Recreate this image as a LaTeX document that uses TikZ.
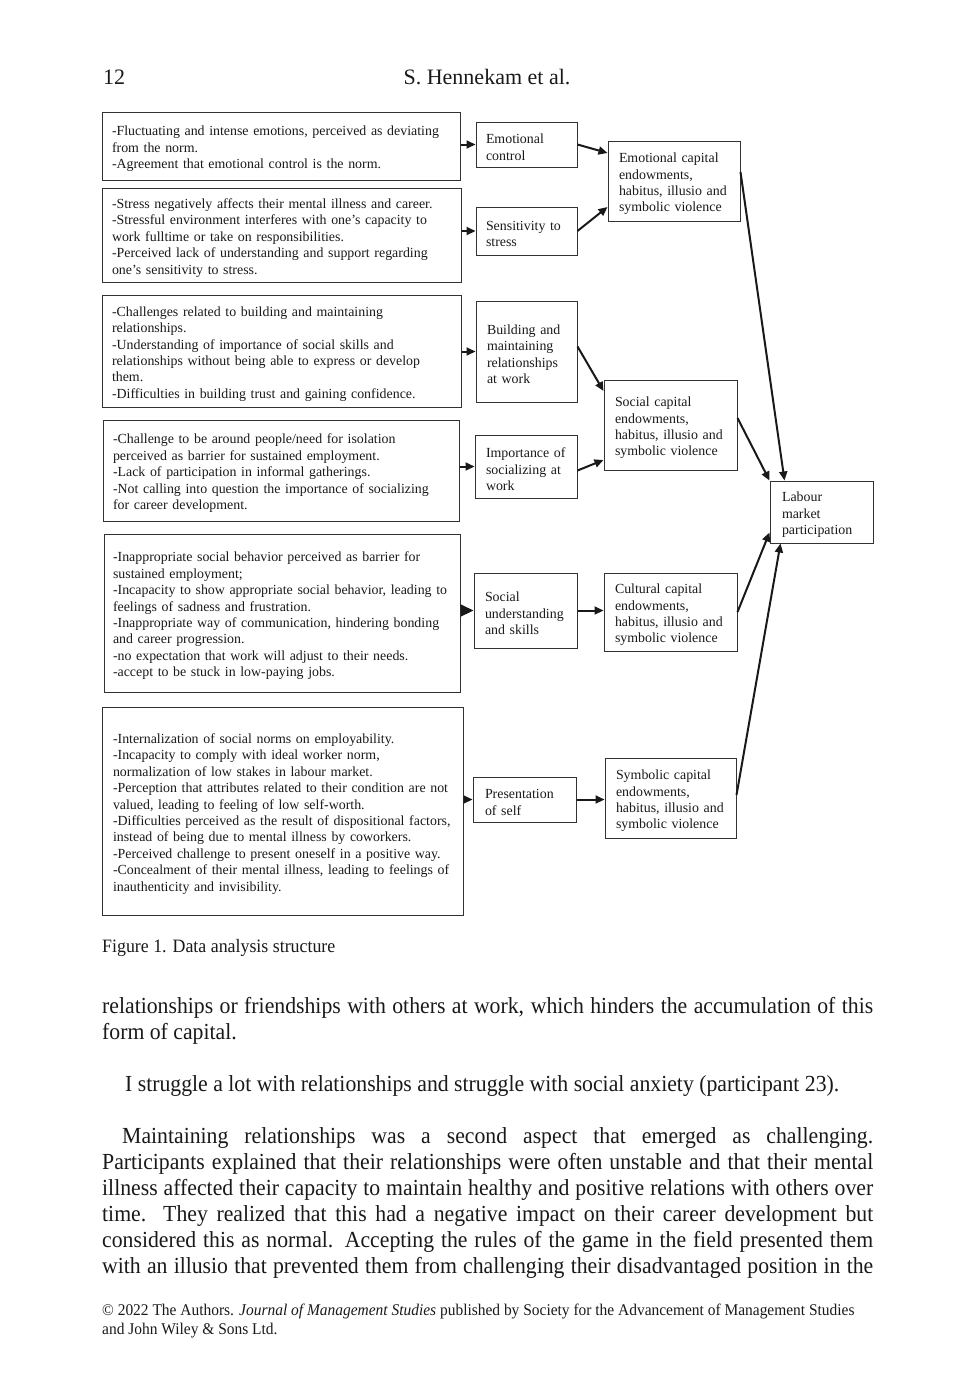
\documentclass[tikz,border=0pt]{standalone}
\usepackage{fontspec}
\setmainfont{Liberation Serif}
\newfontfamily\narrowfont[FakeStretch=0.945]{Liberation Serif}
\usetikzlibrary{arrows.meta}

\begin{document}
\begin{tikzpicture}[x=1pt,y=-1pt,
  card/.style={draw=black!80, line width=1pt, rectangle, inner xsep=10pt, inner ysep=0pt, align=left, text=black!90, font=\fontsize{13.9}{16.4}\selectfont, execute at begin node={\rule{0pt}{15.5pt}}},
  arr/.style={line width=2pt, black!90, -{Triangle[length=9pt,width=8pt]}},
  bigarr/.style={line width=2pt, black!90, -{Triangle[length=13pt,width=12pt]}},
  txt/.style={anchor=base west, inner sep=0pt, text=black!90, font=\narrowfont\fontsize{23}{26}\selectfont}]
\useasboundingbox (0,0) rectangle (970,1395);
\begin{scope}
\node[card, text width=338pt, minimum height=68pt] (1) at (281,146) {-Fluctuating and intense emotions, perceived as deviating\\from the norm.\\-Agreement that emotional control is the norm.};
\node[card, text width=339pt, minimum height=94pt] (2) at (281.5,235) {-Stress negatively affects their mental illness and career.\\-Stressful environment interferes with one's capacity to\\work fulltime or take on responsibilities.\\-Perceived lack of understanding and support regarding\\one's sensitivity to stress.};
\node[card, text width=339pt, minimum height=112pt] (3) at (281.5,351) {-Challenges related to building and maintaining\\relationships.\\-Understanding of importance of social skills and\\relationships without being able to express or develop\\them.\\-Difficulties in building trust and gaining confidence.};
\node[card, text width=336pt, minimum height=101pt] (4) at (281,470.5) {-Challenge to be around people/need for isolation\\perceived as barrier for sustained employment.\\-Lack of participation in informal gatherings.\\-Not calling into question the importance of socializing\\for career development.};
\node[card, inner xsep=9pt, text width=338pt, minimum height=158pt] (5) at (282,613) {-Inappropriate social behavior perceived as barrier for\\sustained employment;\\-Incapacity to show appropriate social behavior, leading to\\feelings of sadness and frustration.\\-Inappropriate way of communication, hindering bonding\\and career progression.\\-no expectation that work will adjust to their needs.\\-accept to be stuck in low-paying jobs.};
\node[card, inner xsep=11pt, text width=339pt, minimum height=208pt] (6) at (282.5,811) {-Internalization of social norms on employability.\\-Incapacity to comply with ideal worker norm,\\normalization of low stakes in labour market.\\-Perception that attributes related to their condition are not\\valued, leading to feeling of low self-worth.\\-Difficulties perceived as the result of dispositional factors,\\instead of being due to mental illness by coworkers.\\-Perceived challenge to present oneself in a positive way.\\-Concealment of their mental illness, leading to feelings of\\inauthenticity and invisibility.};

\node[card, text width=81pt, minimum height=45pt] (7) at (526.5,144.5) {Emotional\\control};
\node[card, text width=81pt, minimum height=48pt] (8) at (526.5,231) {Sensitivity to\\stress};
\node[card, inner xsep=11pt, text width=79pt, minimum height=101pt] (9) at (526.5,351.5) {Building and\\maintaining\\relationships\\at work};
\node[card, inner xsep=11pt, text width=80pt, minimum height=63pt] (10) at (526,466.5) {Importance of\\socializing at\\work};
\node[card, inner xsep=11pt, text width=81pt, minimum height=75pt] (11) at (525.5,610.5) {Social\\understanding\\and skills};
\node[card, inner xsep=12pt, text width=79pt, minimum height=45pt] (12) at (524.5,799.5) {Presentation\\of self};

\node[card, inner xsep=11pt, text width=110pt, minimum height=80pt] (13) at (674,181) {Emotional capital\\endowments,\\habitus, illusio and\\symbolic violence};
\node[card, inner xsep=11pt, text width=111pt, minimum height=90pt] (14) at (670.5,425) {Social capital\\endowments,\\habitus, illusio and\\symbolic violence};
\node[card, inner xsep=11pt, text width=111pt, minimum height=78pt] (15) at (670.5,612) {Cultural capital\\endowments,\\habitus, illusio and\\symbolic violence};
\node[card, inner xsep=11pt, text width=109pt, minimum height=80pt] (16) at (670.5,798) {Symbolic capital\\endowments,\\habitus, illusio and\\symbolic violence};

\node[card, inner xsep=12pt, text width=79pt, minimum height=62pt] (17) at (821.5,512) {Labour\\market\\participation};

\draw[arr] (1.east |- 7) -- (7.west);
\draw[arr] (2.east |- 8) -- (8.west);
\draw[arr] (3.east |- 9) -- (9.west);
\draw[arr] (4.east |- 10) -- (10.west);
\draw[bigarr] (5.east |- 11) -- (11.west);
\draw[arr] (6.east |- 12) -- (12.west);
\draw[arr] (7.east) -- ([yshift=28pt]13.west);
\draw[arr] (8.east) -- ([yshift=-26pt]13.west);
\draw[arr] ([yshift=5pt]9.east) -- ([yshift=34pt]14.west);
\draw[arr] ([yshift=-4pt]10.east) -- ([yshift=-35pt]14.west);
\draw[arr] (11.east) -- (15.west |- 11.east);
\draw[arr] (12.east) -- (16.west |- 12.east);
\draw[arr] ([yshift=9pt]13.east) -- ([xshift=15pt]17.north west);
\draw[arr] ([yshift=7pt]14.east) -- (17.north west);
\draw[arr] (15.east) -- ([yshift=11pt]17.south west);
\draw[arr] ([yshift=3pt]16.east) -- ([xshift=11pt]17.south west);
\end{scope}

\node[txt, font=\fontsize{22}{26}\selectfont] (h1) at (103,84) {12};
\node[txt, anchor=base, font=\fontsize{22}{26}\selectfont] (h2) at (487,84) {S. Hennekam et al.};
\node[txt, font=\narrowfont\fontsize{18.9}{20}\selectfont] (c1) at (102,952) {Figure 1. Data analysis structure};

\node[txt] (b1) at (102,1013) {\makebox[771pt][s]{relationships or friendships with others at work, which hinders the accumulation of this}};
\node[txt] (b2) at (102,1039) {form of capital.};
\node[txt] (b3) at (125,1091) {I struggle a lot with relationships and struggle with social anxiety (participant 23).};
\node[txt] (b4) at (122,1143) {\makebox[751pt][s]{Maintaining relationships was a second aspect that emerged as challenging.}};
\node[txt] (b5) at (102,1169) {\makebox[771pt][s]{Participants explained that their relationships were often unstable and that their mental}};
\node[txt] (b6) at (102,1195) {\makebox[771pt][s]{illness affected their capacity to maintain healthy and positive relations with others over}};
\node[txt] (b7) at (102,1221) {\makebox[771pt][s]{time. They realized that this had a negative impact on their career development but}};
\node[txt] (b8) at (102,1247) {\makebox[771pt][s]{considered this as normal. Accepting the rules of the game in the field presented them}};
\node[txt] (b9) at (102,1273) {\makebox[771pt][s]{with an illusio that prevented them from challenging their disadvantaged position in the}};

\node[txt, font=\narrowfont\fontsize{16.35}{19}\selectfont] (f1) at (102,1315) {\textcopyright{} 2022 The Authors. \textit{Journal of Management Studies} published by Society for the Advancement of Management Studies};
\node[txt, font=\narrowfont\fontsize{16.35}{19}\selectfont] (f2) at (102,1334) {and John Wiley \& Sons Ltd.};
\end{tikzpicture}
\end{document}
